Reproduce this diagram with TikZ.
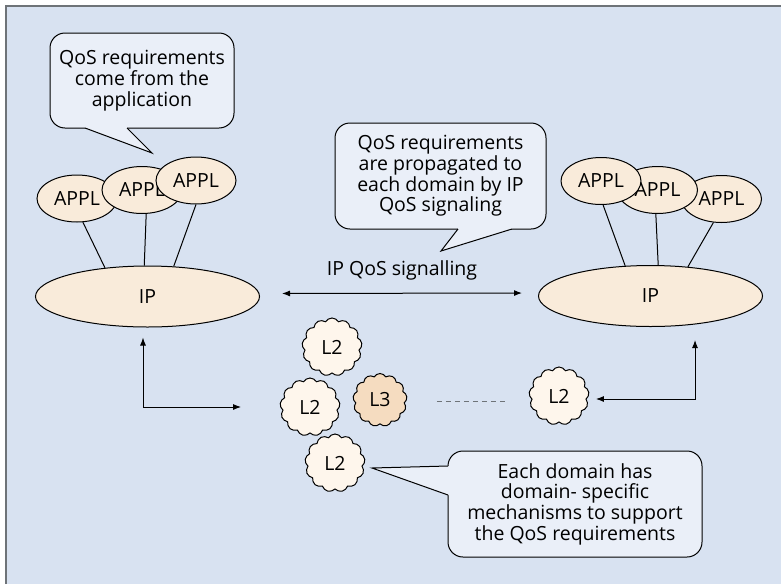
\documentclass[tikz,border=0pt]{standalone}
\usepackage{fontspec}
\setmainfont{Open Sans}
\usetikzlibrary{shapes.geometric,shapes.symbols,arrows.meta,calc}
\definecolor{bgblue}{HTML}{D8E2F1}
\definecolor{framegray}{HTML}{6E7378}
\definecolor{bubblefill}{HTML}{EAEFF8}
\definecolor{applfill}{HTML}{F9EBDA}
\definecolor{cloudfill}{HTML}{FEF6EC}
\definecolor{cloudthree}{HTML}{F5DCC0}
\tikzset{
  txt/.style={font=\fontsize{19.5}{20.7}\selectfont},
  bubble/.style={txt, draw, fill=bubblefill, rounded corners=15pt, align=center, inner sep=0pt},
  appl/.style={txt, ellipse, draw, fill=applfill, inner sep=0pt, minimum width=80pt, minimum height=47pt},
  ipnet/.style={appl, minimum width=224pt, minimum height=61pt},
  netcloud/.style={txt, cloud, cloud puffs=13, cloud puff arc=120, aspect=1, draw, fill=cloudfill,
    inner sep=0pt, minimum width=60pt, minimum height=58pt},
  link/.style={{Latex[length=8pt,width=6pt]}-{Latex[length=8pt,width=6pt]}},
}
\newcommand{\calltail}[4]{%
  \fill[bubblefill] ($(#1)+(#4)$) -- (#1) -- (#2) -- (#3) -- ($(#3)+(#4)$) -- cycle;
  \draw (#1) -- (#2) -- (#3);}

\begin{document}
\begin{tikzpicture}[x=1pt, y=-1pt, line width=1pt]
  % Background
  \useasboundingbox (0,0) rectangle (781,584);
  \fill[bgblue] (6,6) rectangle (781,584);
  \draw[framegray, line width=2pt] (6,584) -- (6,6) -- (781,6);

  % Bubbles
  \node[bubble, minimum width=184pt, minimum height=95pt] (q1) at (142,80.5)
    {QoS requirements\\come from the\\application};
  \coordinate (q1a) at (85,128);
  \coordinate (q1t) at (152,153);
  \coordinate (q1b) at (127,128);
  \calltail{q1a}{q1t}{q1b}{0,-3}

  \node[bubble, minimum width=211pt, minimum height=106pt] (q2) at (440.5,176)
    {QoS requirements\\are propagated to\\each domain by IP\\QoS signaling};
  \coordinate (q2a) at (458,229);
  \coordinate (q2t) at (441,251);
  \coordinate (q2b) at (512,229);
  \calltail{q2a}{q2t}{q2b}{0,-3}

  \node[bubble, minimum width=254pt, minimum height=106pt] (q3) at (575,504)
    {Each domain has\\domain- specific\\mechanisms to support\\the QoS requirements};
  \coordinate (q3a) at (448,466);
  \coordinate (q3t) at (372,468);
  \coordinate (q3b) at (448,495);
  \calltail{q3a}{q3t}{q3b}{3,0}

  % Left host
  \node[appl] (aL1) at (77,198.5) {APPL};
  \node[appl] (aL2) at (142,190) {APPL};
  \node[appl] (aL3) at (196,180.5) {APPL};
  \node[ipnet] (ipL) at (147.5,296.5) {IP};
  \draw (aL1.-76) -- (ipL.146.5);
  \draw (aL2.-80.5) -- (ipL.96.5);
  \draw (aL3.-90) -- (ipL.49);

  % Right host
  \node[appl] (aR3) at (721.5,199) {APPL};
  \node[appl] (aR2) at (657.5,190) {APPL};
  \node[appl] (aR1) at (601,181) {APPL};
  \node[ipnet] (ipR) at (650.5,296) {IP};
  \draw (aR1.-85) -- (ipR.130);
  \draw (aR2.-94) -- (ipR.76);
  \draw (aR3.-109.5) -- (ipR.38.5);

  % Signalling
  \node[txt] (sig) at (402,270) {IP QoS signalling};
  \draw[link, shorten <=22pt, shorten >=16pt] ([yshift=3pt]ipL.east) -- ([yshift=3pt]ipR.west);

  % Domains
  \node[netcloud] (d1) at (332,347) {L2};
  \node[netcloud] (d2) at (310,407) {L2};
  \node[netcloud, fill=cloudthree, minimum width=54pt, minimum height=53pt] (d3) at (380,400) {L3};
  \node[netcloud] (d4) at (335,463) {L2};
  \node[netcloud] (d5) at (559,396) {L2};
  \draw[dashed, dash pattern=on 5pt off 4pt, framegray, shorten <=30pt, shorten >=22pt]
    ([yshift=-1pt]d3.east) -- ([yshift=-1pt]d3.east -| d5.west);

  % Arrows
  \draw[link, shorten <=10pt, shorten >=39pt] ([xshift=-4.5pt]ipL.south) |- (d2.west);
  \coordinate (rtop) at (695,340);
  \draw[link, shorten >=7pt] (rtop) |- ([yshift=-3pt]d5.east);
\end{tikzpicture}
\end{document}
